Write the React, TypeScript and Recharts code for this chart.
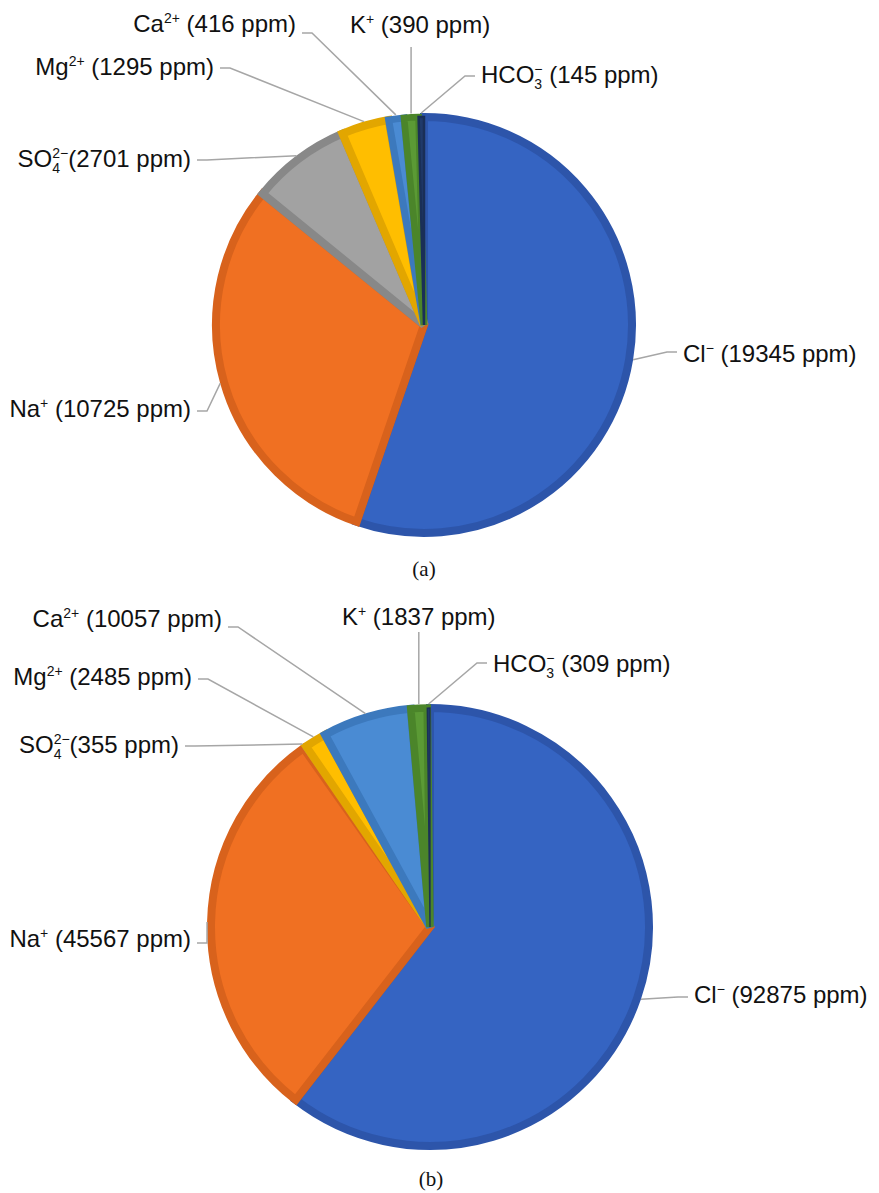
import React from 'react';
import { PieChart, Pie, Cell } from 'recharts';

// Ion order, drawn clockwise from 12 o'clock
const ions = ['Cl', 'Na', 'SO4', 'Mg', 'Ca', 'K', 'HCO3'];
const seawaterPpm = [19345, 10725, 2701, 1295, 416, 390, 145];
const formationPpm = [92875, 45567, 355, 2485, 10057, 1837, 309];

const ionFormula: Record<string, { base: string; sup: string; sub?: string }> = {
  Cl: { base: 'Cl', sup: '−' },
  Na: { base: 'Na', sup: '+' },
  SO4: { base: 'SO', sup: '2−', sub: '4' },
  Mg: { base: 'Mg', sup: '2+' },
  Ca: { base: 'Ca', sup: '2+' },
  K: { base: 'K', sup: '+' },
  HCO3: { base: 'HCO', sup: '−', sub: '3' },
};

const fills: Record<string, string> = {
  Cl: '#3564C2',
  Na: '#F07022',
  SO4: '#A2A2A2',
  Mg: '#FFBE00',
  Ca: '#4A8BD3',
  K: '#5B9A35',
  HCO3: '#203A6A',
};
const edges: Record<string, string> = {
  Cl: '#2D55AA',
  Na: '#D8621C',
  SO4: '#888888',
  Mg: '#E2A600',
  Ca: '#3C79BD',
  K: '#4B852A',
  HCO3: '#1A2F57',
};

const EDGE = 8;
const FONT = '"Liberation Sans", Arial, sans-serif';
const BIG = 24;
const SMALL = 14;

type Place = { side: 'L' | 'R' | 'U'; ex?: number; ey: number; dy: number; dx?: number };

// leader elbow positions relative to the pie centre
const seawaterPlace: Record<string, Place> = {
  Cl: { side: 'R', ex: 243, ey: 27, dy: 10 },
  Na: { side: 'L', ex: -217, ey: 86, dy: 6 },
  SO4: { side: 'L', ex: -217, ey: -165, dy: 7 },
  Mg: { side: 'L', ex: -194, ey: -257, dy: 7 },
  Ca: { side: 'L', ex: -112, ey: -292, dy: -1 },
  K: { side: 'U', ey: -278, dy: -14, dx: 9 },
  HCO3: { side: 'R', ex: 41, ey: -249, dy: 7 },
};
const formationPlace: Record<string, Place> = {
  Cl: { side: 'R', ex: 248, ey: 70, dy: 6 },
  Na: { side: 'L', ex: -223, ey: 16, dy: 4 },
  SO4: { side: 'L', ex: -235, ey: -181, dy: 7 },
  Mg: { side: 'L', ex: -222, ey: -248, dy: 6 },
  Ca: { side: 'L', ex: -192, ey: -300, dy: 0 },
  K: { side: 'U', ey: -295, dy: -7, dx: 0 },
  HCO3: { side: 'R', ex: 47, ey: -264, dy: 9 },
};

const charW = (s: string) =>
  s.split('').reduce((w, c) => w + (c === '+' || c === '−' ? 0.584 : 0.556), 0) * SMALL;

function IonText({ x, y, anchor, ion, value }: { x: number; y: number; anchor: string; ion: string; value: number }) {
  const f = ionFormula[ion];
  const supW = charW(f.sup);
  const subW = f.sub ? charW(f.sub) : 0;
  const gap = ion === 'SO4' ? '' : ' ';
  return (
    <text x={x} y={y} textAnchor={anchor as any} fontFamily={FONT} fontSize={BIG} fill="#111" style={{ whiteSpace: 'pre' }}>
      {f.base}
      <tspan fontSize={SMALL} dy={-9}>{f.sup}</tspan>
      {f.sub && (
        <tspan fontSize={SMALL} dx={-supW} dy={15}>{f.sub}</tspan>
      )}
      <tspan fontSize={BIG} dx={f.sub ? supW - subW : 0} dy={f.sub ? -6 : 9}>
        {`${gap}(${value} ppm)`}
      </tspan>
    </text>
  );
}

const RAD = Math.PI / 180;

function makeLabel(place: Record<string, Place>) {
  return (props: any) => {
    const { cx, cy, midAngle, outerRadius, name, value } = props;
    const r = outerRadius + EDGE / 2;
    const px = cx + r * Math.cos(-midAngle * RAD);
    const py = cy + r * Math.sin(-midAngle * RAD);
    const p = place[name];
    let points: string;
    let tx: number;
    let ty: number;
    let anchor: string;
    if (p.side === 'U') {
      const top = cy + p.ey;
      points = `${px},${py} ${px},${top}`;
      tx = px + (p.dx ?? 0);
      ty = top + p.dy;
      anchor = 'middle';
    } else {
      const s = p.side === 'R' ? 1 : -1;
      const ex = cx + (p.ex ?? 0);
      const ey = cy + p.ey;
      const tail = ex + s * 10;
      points = `${px},${py} ${ex},${ey} ${tail},${ey}`;
      tx = tail + s * 6;
      ty = ey + p.dy;
      anchor = s > 0 ? 'start' : 'end';
    }
    return (
      <g key={`label-${name}`}>
        <polyline points={points} fill="none" stroke="#A6A6A6" strokeWidth={1.5} />
        <IonText x={tx} y={ty} anchor={anchor} ion={name} value={value} />
      </g>
    );
  };
}

function IonPie({ values, place, height, cx, cy, radius }: {
  values: number[]; place: Record<string, Place>; height: number; cx: number; cy: number; radius: number;
}) {
  const data = ions.map((name, i) => ({ name, value: values[i] }));
  const total = values.reduce((a, b) => a + b, 0);
  return (
    <PieChart width={879} height={height} margin={{ top: 0, right: 0, bottom: 0, left: 0 }}>
      <Pie
        data={data}
        dataKey="value"
        nameKey="name"
        cx={cx}
        cy={cy}
        outerRadius={radius - EDGE / 2}
        startAngle={90}
        endAngle={-270}
        labelLine={false}
        label={makeLabel(place)}
        isAnimationActive={false}
      >
        {data.map((d) => {
          // thin slices get a thinner rim so they stay thin
          const arc = (d.value / total) * 2 * Math.PI * radius;
          return (
            <Cell key={d.name} fill={fills[d.name]} stroke={edges[d.name]} strokeWidth={Math.min(EDGE, arc * 0.45)} />
          );
        })}
      </Pie>
    </PieChart>
  );
}

const captionStyle: React.CSSProperties = {
  position: 'absolute',
  left: 0,
  textAlign: 'center',
  fontFamily: '"Liberation Serif", "Times New Roman", serif',
  fontSize: 21,
  color: '#111',
};

export default function App() {
  return (
    <div style={{ position: 'absolute', left: 0, top: 0, width: 879, height: 1193, background: '#fff' }}>
      <div style={{ position: 'absolute', left: 0, top: 0 }}>
        <IonPie values={seawaterPpm} place={seawaterPlace} height={585} cx={424} cy={325} radius={212} />
      </div>
      <div style={{ ...captionStyle, top: 557, width: 848 }}>(a)</div>
      <div style={{ position: 'absolute', left: 0, top: 585 }}>
        <IonPie values={formationPpm} place={formationPlace} height={608} cx={430} cy={342} radius={223} />
      </div>
      <div style={{ ...captionStyle, top: 1167, width: 862 }}>(b)</div>
    </div>
  );
}
